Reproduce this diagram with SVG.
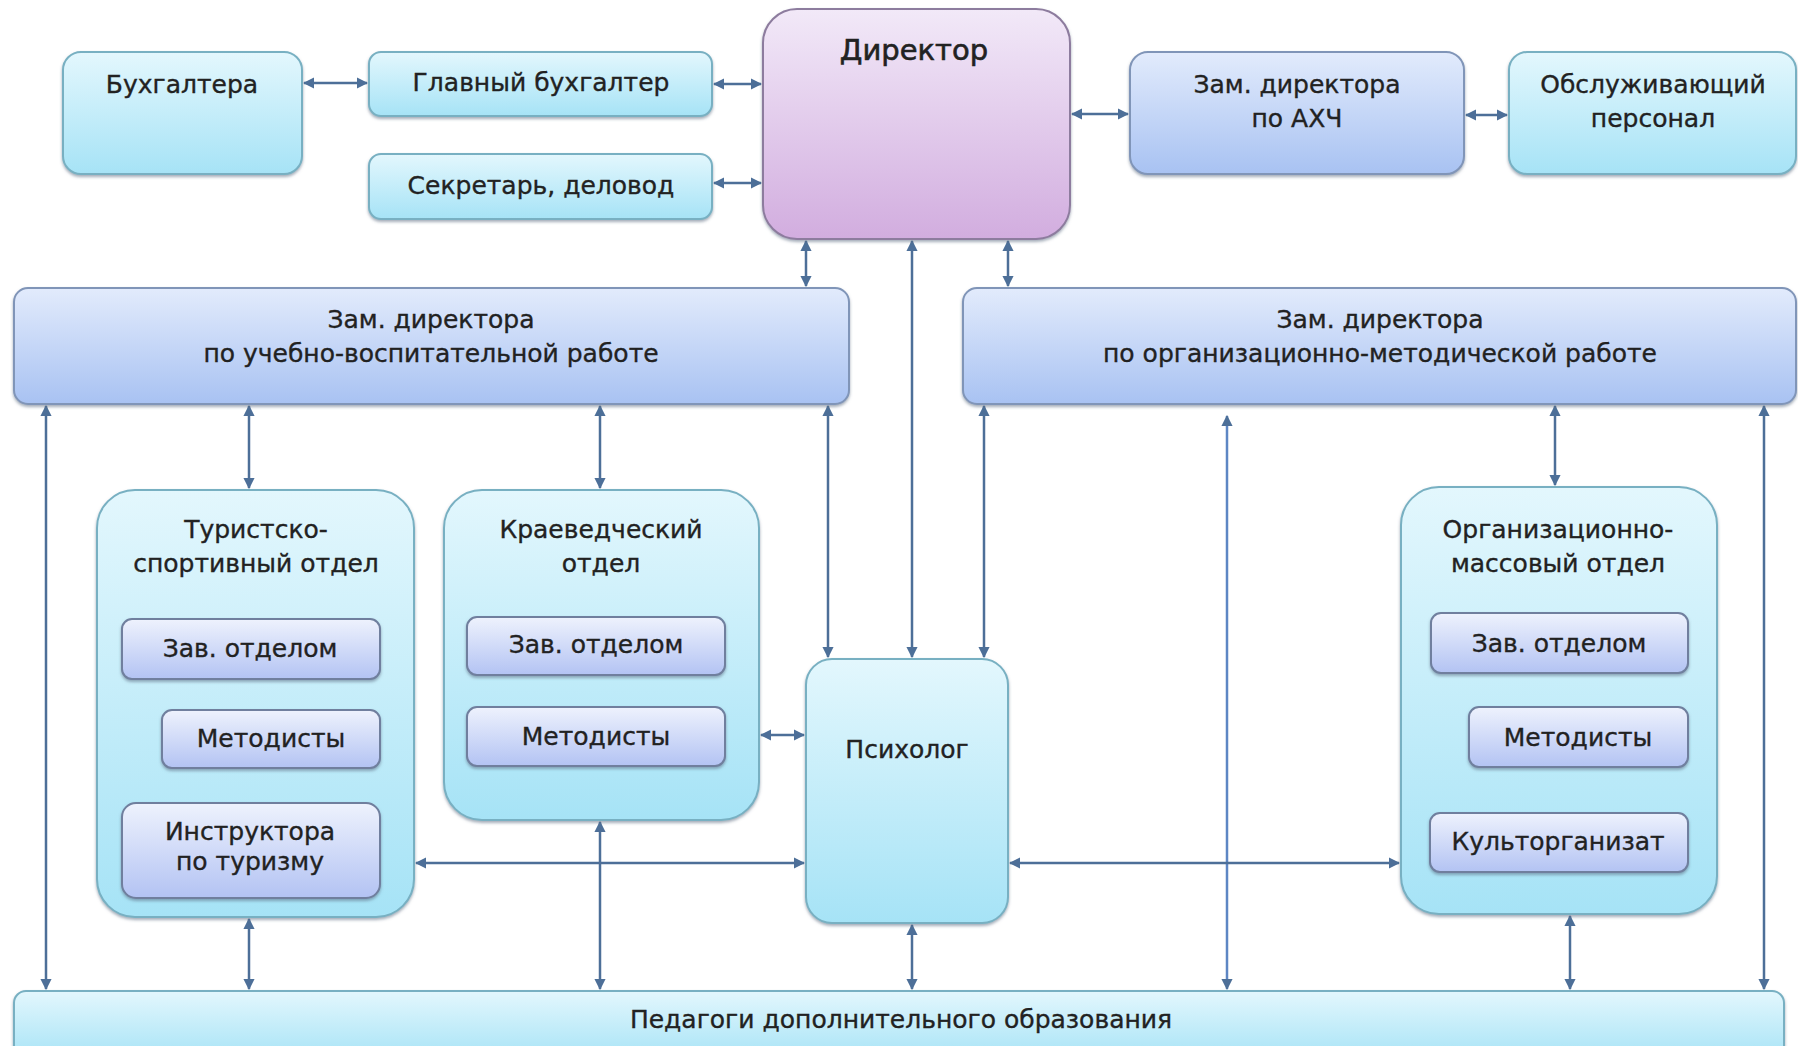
<svg xmlns="http://www.w3.org/2000/svg" width="1798" height="1046" viewBox="0 0 1798 1046">
<defs>
<linearGradient id="gCyan" x1="0" y1="0" x2="0" y2="1"><stop offset="0" stop-color="#e3f7fd"/><stop offset="1" stop-color="#a6e3f6"/></linearGradient>
<linearGradient id="gBlue" x1="0" y1="0" x2="0" y2="1"><stop offset="0" stop-color="#e2ebfc"/><stop offset="1" stop-color="#a8c2f2"/></linearGradient>
<linearGradient id="gInner" x1="0" y1="0" x2="0" y2="1"><stop offset="0" stop-color="#eef2fd"/><stop offset="1" stop-color="#b3c3f3"/></linearGradient>
<linearGradient id="gDir" x1="0" y1="0" x2="0" y2="1"><stop offset="0" stop-color="#f2e9f8"/><stop offset="1" stop-color="#d2addf"/></linearGradient>
<filter id="sh" x="-5%" y="-5%" width="110%" height="115%"><feDropShadow dx="0" dy="2" stdDeviation="1.5" flood-color="#5a6a80" flood-opacity="0.55"/></filter>
<marker id="ah" viewBox="0 0 10 10" refX="9" refY="5" markerWidth="4.5" markerHeight="4.5" orient="auto-start-reverse" markerUnits="strokeWidth"><path d="M0,0 L10,5 L0,10 z" fill="#4d6f98"/></marker>
</defs>
<style>
.cy{fill:url(#gCyan);stroke:#78b0c2;stroke-width:2;filter:url(#sh)}
.bl{fill:url(#gBlue);stroke:#8095b8;stroke-width:2;filter:url(#sh)}
.in{fill:url(#gInner);stroke:#6f7f9e;stroke-width:2;filter:url(#sh)}
.dr{fill:url(#gDir);stroke:#8d7c9e;stroke-width:2;filter:url(#sh)}
text{font-family:"DejaVu Sans","Liberation Sans",sans-serif;font-size:25px;fill:#222222;stroke:#222222;stroke-width:0.35;text-anchor:middle}
.big{font-size:29px;stroke-width:0.6}
.cn line{stroke:#4d6f98;stroke-width:2.5;marker-start:url(#ah);marker-end:url(#ah)}
</style>
<rect width="1798" height="1046" fill="#ffffff"/>

<g id="connectors" class="cn">
<line x1="304" y1="83" x2="367" y2="83"/>
<line x1="714" y1="84" x2="761" y2="84"/>
<line x1="714" y1="183" x2="761" y2="183"/>
<line x1="1072" y1="114" x2="1128" y2="114"/>
<line x1="1466" y1="115" x2="1507" y2="115"/>
<line x1="806" y1="241" x2="806" y2="286"/>
<line x1="912" y1="241" x2="912" y2="657"/>
<line x1="1008" y1="241" x2="1008" y2="286"/>
<line x1="46" y1="406" x2="46" y2="989"/>
<line x1="249" y1="406" x2="249" y2="488"/>
<line x1="600" y1="406" x2="600" y2="488"/>
<line x1="828" y1="406" x2="828" y2="657"/>
<line x1="984" y1="406" x2="984" y2="657"/>
<line x1="1227" y1="416" x2="1227" y2="989" style="stroke:#5d86c4"/>
<line x1="1555" y1="406" x2="1555" y2="485"/>
<line x1="1764" y1="406" x2="1764" y2="989"/>
<line x1="416" y1="863" x2="804" y2="863"/>
<line x1="1010" y1="863" x2="1399" y2="863"/>
<line x1="761" y1="735" x2="804" y2="735"/>
<line x1="249" y1="919" x2="249" y2="989"/>
<line x1="600" y1="822" x2="600" y2="989"/>
<line x1="912" y1="925" x2="912" y2="989"/>
<line x1="1570" y1="916" x2="1570" y2="989"/>
</g>

<g id="buhgaltera"><rect class="cy" x="63" y="52" width="239" height="122" rx="18"/><text x="182" y="93">Бухгалтера</text></g>
<g id="glavbuh"><rect class="cy" x="369" y="52" width="343" height="64" rx="12"/><text x="541" y="91">Главный бухгалтер</text></g>
<g id="sekretar"><rect class="cy" x="369" y="154" width="343" height="65" rx="12"/><text x="541" y="194">Секретарь, деловод</text></g>
<g id="direktor"><rect class="dr" x="763" y="9" width="307" height="230" rx="34"/><text class="big" x="914" y="60">Директор</text></g>
<g id="zam-ahch"><rect class="bl" x="1130" y="52" width="334" height="122" rx="18"/><text x="1297" y="93">Зам. директора</text><text x="1297" y="127">по АХЧ</text></g>
<g id="obsluzh"><rect class="cy" x="1509" y="52" width="287" height="122" rx="18"/><text x="1653" y="93">Обслуживающий</text><text x="1653" y="127">персонал</text></g>
<g id="zam-uvr"><rect class="bl" x="14" y="288" width="835" height="116" rx="14"/><text x="431" y="328">Зам. директора</text><text x="431" y="362">по учебно-воспитательной работе</text></g>
<g id="zam-omr"><rect class="bl" x="963" y="288" width="833" height="116" rx="14"/><text x="1380" y="328">Зам. директора</text><text x="1380" y="362">по организационно-методической работе</text></g>

<g id="turist">
<rect class="cy" x="97" y="490" width="317" height="427" rx="38"/>
<text x="256" y="538">Туристско-</text><text x="256" y="572">спортивный отдел</text>
<rect class="in" x="122" y="619" width="258" height="60" rx="10"/><text x="250" y="657">Зав. отделом</text>
<rect class="in" x="162" y="710" width="218" height="58" rx="10"/><text x="271" y="747">Методисты</text>
<rect class="in" x="122" y="803" width="258" height="95" rx="14"/><text x="250" y="840">Инструктора</text><text x="250" y="870">по туризму</text>
</g>
<g id="kraeved">
<rect class="cy" x="444" y="490" width="315" height="330" rx="38"/>
<text x="601" y="538">Краеведческий</text><text x="601" y="572">отдел</text>
<rect class="in" x="467" y="617" width="258" height="58" rx="10"/><text x="596" y="653">Зав. отделом</text>
<rect class="in" x="467" y="707" width="258" height="59" rx="10"/><text x="596" y="745">Методисты</text>
</g>
<g id="psiholog"><rect class="cy" x="806" y="659" width="202" height="264" rx="26"/><text x="907" y="758">Психолог</text></g>
<g id="orgmass">
<rect class="cy" x="1401" y="487" width="316" height="427" rx="38"/>
<text x="1558" y="538">Организационно-</text><text x="1558" y="572">массовый отдел</text>
<rect class="in" x="1431" y="613" width="257" height="60" rx="10"/><text x="1559" y="652">Зав. отделом</text>
<rect class="in" x="1469" y="707" width="219" height="60" rx="10"/><text x="1578" y="746">Методисты</text>
<rect class="in" x="1430" y="813" width="258" height="59" rx="10"/><text x="1558" y="850">Культорганизат</text>
</g>
<g id="pedagogi"><rect class="cy" x="14" y="991" width="1770" height="70" rx="12"/><text x="901" y="1028">Педагоги дополнительного образования</text></g>
</svg>
